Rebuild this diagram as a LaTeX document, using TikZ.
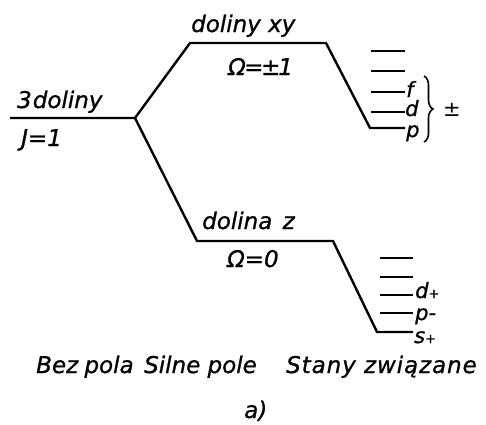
\documentclass[tikz,border=0pt]{standalone}
\usepackage{fontspec}
\setmainfont{DejaVu Sans}[ItalicFeatures={FakeBold=1}]
\usetikzlibrary{decorations.pathreplacing}
\begin{document}
\begin{tikzpicture}[x=1pt,y=-1pt,
  branch/.style={line width=2.4pt},
  level/.style={line width=2.2pt},
  lab/.style={font=\fontsize{23}{26}\selectfont\itshape, inner sep=0pt, anchor=base west},
  sm/.style={font=\fontsize{21}{24}\selectfont\itshape, inner sep=0pt, anchor=base west}]
\useasboundingbox (0,0) rectangle (486,424);

% common starting level (no field)
\coordinate (l0) at (10,118);
\coordinate (split) at (135,118);
% upper branch: xy valleys
\coordinate (u1) at (190,43);
\coordinate (u2) at (326,43);
\coordinate (u3) at (370,128);
\coordinate (u4) at (405,128);
% lower branch: z valley
\coordinate (d1) at (197,241);
\coordinate (d2) at (333,241);
\coordinate (d3) at (377,332);
\coordinate (d4) at (413,332);

\draw[branch] (l0) -- (split) -- (u1) -- (u2) -- (u3) -- (u4);
\draw[branch] (split) -- (d1) -- (d2) -- (d3) -- (d4);

% bound states of the xy valleys
\foreach \y/\n in {51/a,71/b,92/c,112/e}
  \draw[level] (371,\y) coordinate (ua\n) -- (405,\y) coordinate (ub\n);
% bound states of the z valley
\foreach \y/\n in {258/a,277/b,295/c,313/e}
  \draw[level] (380,\y) coordinate (da\n) -- (413,\y) coordinate (db\n);

% branch labels
\node[lab] (t3) at (17,108) {3\kern1pt doliny};
\node[lab] (tJ) at (21,146) {J=1};
\node[lab] (txy) at (191,32) {doliny xy};
\node[lab] (tom1) at (228,75) {Ω\kern-1.5pt=\kern-2.5pt±\kern-2pt1};
\node[lab] (tz) at (202,229) {dolina\hspace{3pt} z};
\node[lab] (tom0) at (227,267) {Ω=0};

% state labels
\node[sm] (sf) at (406,97) {f};
\node[sm] (sd) at (405,116) {d};
\node[sm] (sp) at (406,137) {p};
\draw[line width=1.6pt, decorate, decoration={brace, amplitude=9pt}]
  (424,76) coordinate (bt) -- (424,142) coordinate (bb);
\node[lab, font=\fontsize{21}{24}\selectfont] (pm) at (443,116) {±};

\node[sm] (sd2) at (415,298) {d{\fontsize{13}{14}\selectfont +}};
\node[sm] (sp2) at (415,320) {p-};
\node[sm] (ss2) at (414,343) {s{\fontsize{13}{14}\selectfont +}};

% column captions
\node[lab] (c1) at (36,373) {Bez\kern-1pt{} pola};
\node[lab] (c2) at (144,373) {Silne pole};
\node[lab] (c3) at (286,373) {\addfontfeature{LetterSpace=4}Stany związane};
\node[lab] (ca) at (244,418) {a)};
\end{tikzpicture}
\end{document}
